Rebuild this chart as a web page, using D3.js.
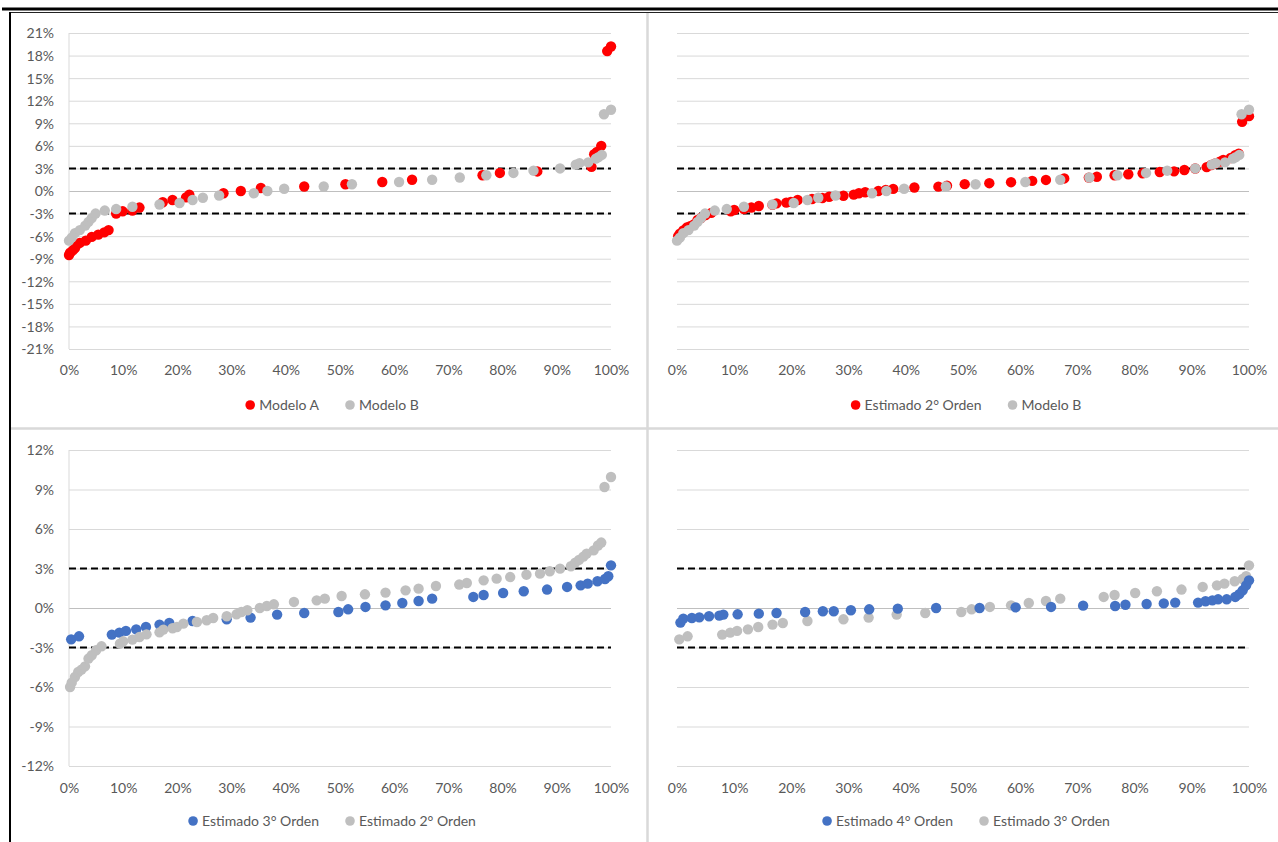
<!DOCTYPE html>
<html>
<head>
<meta charset="utf-8">
<script src="https://cdn.jsdelivr.net/npm/d3@7"></script>
<style>
  body { margin: 0; background: #fff; }
  svg { display: block; }
  text { font-family: Lato, "Open Sans", sans-serif; }
</style>
</head>
<body>
<svg id="chart" width="1278" height="842"></svg>
<script>
// Each series: [percentile of the ranked sample (%), error (%)]
const modeloA = [
  [0, -8.5], [0.2, -8.2], [0.7, -7.9], [1.1, -7.6], [1.5, -7.1], [2.0, -6.9], [3.1, -6.6],
  [4.2, -6.1], [5.4, -5.8], [6.5, -5.5], [7.3, -5.2], [8.7, -3.0], [9.9, -2.7], [11.7, -2.6],
  [13.0, -2.2], [17.3, -1.5], [19.1, -1.2], [21.6, -0.85], [22.2, -0.5], [28.5, -0.3],
  [31.7, 0.0], [35.4, 0.4], [43.4, 0.6], [51.0, 0.9], [57.8, 1.2], [63.3, 1.5], [76.3, 2.1],
  [79.5, 2.4], [86.4, 2.6], [96.4, 3.2], [96.9, 4.9], [97.4, 5.2], [98.2, 6.0],
  [99.3, 18.6], [100, 19.2]
];

const modeloB = [
  [0, -6.6], [0.5, -6.2], [1.1, -5.6], [2.0, -5.2], [3.0, -4.6], [3.6, -4.1], [4.2, -3.6],
  [4.9, -3.0], [6.6, -2.6], [8.7, -2.4], [11.7, -2.1], [16.7, -1.8], [20.4, -1.6],
  [22.8, -1.2], [24.7, -0.9], [27.7, -0.6], [34.1, -0.3], [36.6, 0.0], [39.7, 0.3],
  [47.0, 0.6], [52.2, 0.9], [60.9, 1.2], [67.0, 1.5], [72.1, 1.8], [77.0, 2.1], [82.0, 2.4],
  [85.7, 2.7], [90.6, 3.0], [93.5, 3.5], [94.2, 3.7], [95.8, 3.8], [97.2, 4.3], [97.7, 4.5],
  [98.3, 4.8], [98.7, 10.2], [100, 10.8]
];

const estimado2 = [
  [0.2, -6.0], [0.5, -5.67], [1.1, -5.24], [1.7, -4.86], [2.3, -4.68], [2.95, -4.43],
  [3.6, -3.84], [4.2, -3.59], [5.0, -3.21], [6.0, -2.91], [9.4, -2.71], [10.0, -2.53],
  [11.7, -2.4], [13.0, -2.2], [14.3, -2.0], [16.7, -1.85], [17.4, -1.64], [19.1, -1.54],
  [19.9, -1.44], [21.1, -1.19], [23.6, -1.06], [25.4, -0.93], [26.6, -0.76], [29.1, -0.63],
  [30.9, -0.48], [31.8, -0.3], [32.9, -0.17], [35.2, 0.0], [36.5, 0.15], [37.8, 0.28],
  [41.5, 0.46], [45.7, 0.58], [47.2, 0.71], [50.3, 0.91], [54.6, 1.04], [58.4, 1.17],
  [62.1, 1.34], [64.5, 1.47], [67.7, 1.67], [72.0, 1.78], [73.4, 1.9], [76.5, 2.1],
  [78.9, 2.23], [81.4, 2.35], [84.4, 2.53], [86.9, 2.61], [88.7, 2.79], [90.6, 2.99],
  [92.6, 3.17], [93.4, 3.45], [94.1, 3.65], [94.9, 3.9], [95.5, 4.13], [96.8, 4.38],
  [97.6, 4.75], [98.2, 4.97], [98.8, 9.19], [100, 9.95]
];

const estimado3 = [
  [0.4, -2.38], [1.85, -2.15], [7.9, -2.02], [9.3, -1.87], [10.5, -1.74], [12.4, -1.62],
  [14.2, -1.44], [16.7, -1.26], [18.5, -1.14], [22.8, -0.99], [29.1, -0.86], [33.5, -0.73],
  [38.4, -0.5], [43.4, -0.38], [49.7, -0.3], [51.5, -0.1], [54.7, 0.08], [58.4, 0.2],
  [61.5, 0.38], [64.5, 0.53], [67.0, 0.71], [74.6, 0.84], [76.5, 0.99], [80.1, 1.14],
  [83.9, 1.27], [88.2, 1.4], [91.9, 1.6], [94.4, 1.72], [95.7, 1.85], [97.5, 2.03],
  [98.9, 2.2], [99.5, 2.41], [100, 3.24]
];

const estimado4 = [
  [0.6, -1.11], [1.1, -0.81], [2.6, -0.76], [3.9, -0.71], [5.6, -0.63], [7.4, -0.58],
  [8.1, -0.5], [10.6, -0.48], [14.3, -0.43], [17.4, -0.38], [22.4, -0.3], [25.5, -0.25],
  [27.4, -0.25], [30.4, -0.17], [33.6, -0.1], [38.6, -0.05], [45.3, 0.0], [52.9, 0.0],
  [59.2, 0.05], [65.4, 0.08], [71.0, 0.18], [76.6, 0.15], [78.4, 0.25], [82.1, 0.3],
  [85.1, 0.35], [87.1, 0.41], [91.1, 0.41], [92.4, 0.51], [93.6, 0.58], [94.6, 0.66],
  [96.1, 0.66], [97.6, 0.84], [98.3, 1.05], [98.9, 1.34], [99.5, 1.72], [100, 2.1]
];

const xTickValues = [0, 10, 20, 30, 40, 50, 60, 70, 80, 90, 100];
const yTicksUpper = [-21, -18, -15, -12, -9, -6, -3, 0, 3, 6, 9, 12, 15, 18, 21];
const yTicksLower = [-12, -9, -6, -3, 0, 3, 6, 9, 12];
const toleranceBand = [-3, 3];

const RED = "#FF0000", GRAY = "#BFBFBF", BLUE = "#4472C4";
const LABEL = "#595959", GRID = "#D9D9D9", AXIS = "#BFBFBF";
const FONT = "14px";

const panels = [
  { x: [69, 611], y: [349, 33], ticks: yTicksUpper, yLabels: true, xLabelY: 370, legendY: 405, legendX: 332,
    layers: [{ data: modeloA, color: RED, name: "Modelo A" }, { data: modeloB, color: GRAY, name: "Modelo B" }],
    legend: [0, 1] },
  { x: [677, 1249], y: [349, 33], ticks: yTicksUpper, yLabels: false, xLabelY: 370, legendY: 405, legendX: 966,
    layers: [{ data: estimado2, color: RED, name: "Estimado 2° Orden" }, { data: modeloB, color: GRAY, name: "Modelo B" }],
    legend: [0, 1] },
  { x: [69, 611], y: [766, 450], ticks: yTicksLower, yLabels: true, xLabelY: 788, legendY: 821, legendX: 332,
    layers: [{ data: estimado3, color: BLUE, name: "Estimado 3° Orden" }, { data: estimado2, color: GRAY, name: "Estimado 2° Orden" }],
    legend: [0, 1] },
  { x: [677, 1249], y: [766, 450], ticks: yTicksLower, yLabels: false, xLabelY: 788, legendY: 821, legendX: 966,
    layers: [{ data: estimado3, color: GRAY, name: "Estimado 3° Orden" }, { data: estimado4, color: BLUE, name: "Estimado 4° Orden" }],
    legend: [1, 0] }
];

const svg = d3.select("#chart");

// Sheet frame and panel separators
svg.append("line").attr("x1", 2).attr("x2", 1278).attr("y1", 9).attr("y2", 9)
  .attr("stroke", "#000").attr("stroke-width", 3);
svg.append("line").attr("x1", 10).attr("x2", 1278).attr("y1", 12.5).attr("y2", 12.5)
  .attr("stroke", "#222").attr("stroke-width", 1);
svg.append("line").attr("x1", 10).attr("x2", 10).attr("y1", 12).attr("y2", 842)
  .attr("stroke", "#000").attr("stroke-width", 2);
svg.append("line").attr("x1", 647.5).attr("x2", 647.5).attr("y1", 13).attr("y2", 842)
  .attr("stroke", GRID).attr("stroke-width", 2.5);
svg.append("line").attr("x1", 11).attr("x2", 1278).attr("y1", 428.5).attr("y2", 428.5)
  .attr("stroke", GRID).attr("stroke-width", 2.5);

panels.forEach(p => {
  const x = d3.scaleLinear().domain([0, 100]).range(p.x);
  const y = d3.scaleLinear().domain(d3.extent(p.ticks)).range(p.y);
  const g = svg.append("g");

  // horizontal gridlines
  const grid = g.append("g").attr("transform", `translate(${p.x[0]},0)`)
    .call(d3.axisLeft(y).tickValues(p.ticks).tickSize(-(p.x[1] - p.x[0])).tickFormat(""));
  grid.select(".domain").remove();
  grid.selectAll(".tick line").attr("stroke", d => d === 0 ? AXIS : GRID).attr("stroke-width", 1);

  // vertical axis line and labels on the left panels
  if (p.yLabels) {
    g.append("line").attr("x1", p.x[0]).attr("x2", p.x[0]).attr("y1", p.y[1]).attr("y2", p.y[0])
      .attr("stroke", GRID).attr("stroke-width", 1);
    const ya = g.append("g").attr("transform", `translate(${p.x[0] - 15},0)`)
      .call(d3.axisLeft(y).tickValues(p.ticks).tickSize(0).tickPadding(0).tickFormat(d => d + "%"));
    ya.select(".domain").remove();
    ya.selectAll("text").attr("fill", LABEL).style("font-size", FONT).attr("dy", "0.35em");
  }

  // percentile labels
  const xa = g.append("g").attr("transform", `translate(0,${p.xLabelY})`)
    .call(d3.axisBottom(x).tickValues(xTickValues).tickSize(0).tickPadding(0).tickFormat(d => d + "%"));
  xa.select(".domain").remove();
  xa.selectAll("text").attr("fill", LABEL).style("font-size", FONT).attr("y", 0).attr("dy", "0.35em");

  // ±3% tolerance lines
  g.selectAll(".band").data(toleranceBand).join("line")
    .attr("x1", p.x[0]).attr("x2", p.x[1])
    .attr("y1", d => y(d)).attr("y2", d => y(d))
    .attr("stroke", "#000").attr("stroke-width", 2).attr("stroke-dasharray", "7,4");

  // points
  p.layers.forEach(layer => {
    g.append("g").selectAll("circle").data(layer.data).join("circle")
      .attr("cx", d => x(d[0])).attr("cy", d => y(d[1])).attr("r", 5.2)
      .attr("fill", layer.color);
  });

  // legend, centred under the plot
  const lg = g.append("g");
  const items = p.legend.map(i => p.layers[i]);
  let cursor = 0;
  const gap = 26;
  items.forEach(it => {
    const item = lg.append("g").attr("transform", `translate(${cursor},0)`);
    item.append("circle").attr("cx", 5).attr("cy", 0).attr("r", 4.8).attr("fill", it.color);
    const t = item.append("text").attr("x", 14).attr("y", 0).attr("dy", "0.35em")
      .attr("fill", LABEL).style("font-size", FONT).text(it.name);
    cursor += 14 + t.node().getComputedTextLength() + gap;
  });
  const width = cursor - gap;
  lg.attr("transform", `translate(${p.legendX - width / 2},${p.legendY})`);
});
</script>
</body>
</html>
